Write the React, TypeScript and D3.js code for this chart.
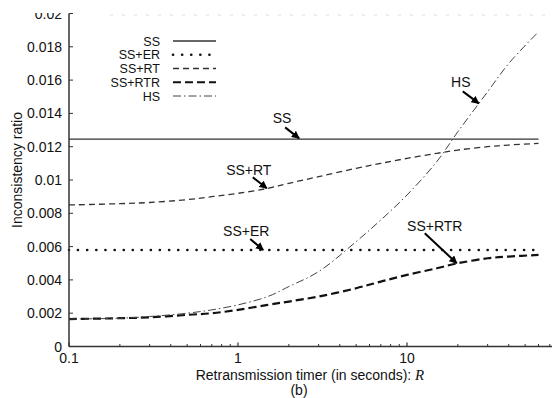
import React, { useRef, useEffect } from 'react';
import * as d3 from 'd3';

// Retransmission timer values (seconds)
const timers = [0.1, 0.2, 0.3, 0.5, 0.7, 1, 1.5, 2, 3, 5, 7, 10, 15, 20, 30, 40, 60];

const ssValues = timers.map(() => 0.01246);
const ssErValues = timers.map(() => 0.0058);
const ssRtValues = [0.0085, 0.00858, 0.00865, 0.00882, 0.009, 0.0092, 0.0095, 0.0098, 0.0102, 0.0107, 0.011, 0.0113, 0.0116, 0.0118, 0.012, 0.0121, 0.0122];
const ssRtrValues = [0.00165, 0.0017, 0.00175, 0.0019, 0.002, 0.0022, 0.0025, 0.0027, 0.003, 0.0035, 0.0039, 0.0043, 0.0047, 0.005, 0.0053, 0.0054, 0.0055];
const hsValues = [0.00165, 0.0017, 0.0018, 0.002, 0.0022, 0.0025, 0.003, 0.0036, 0.0045, 0.0063, 0.0076, 0.0091, 0.0111, 0.0129, 0.0153, 0.017, 0.0189];

const seriesNames = ['SS', 'SS+ER', 'SS+RT', 'SS+RTR', 'HS'];
const seriesValues = [ssValues, ssErValues, ssRtValues, ssRtrValues, hsValues];

const yTicks = [0, 0.002, 0.004, 0.006, 0.008, 0.01, 0.012, 0.014, 0.016, 0.018, 0.02];
const yTickLabels = ['0', '0.002', '0.004', '0.006', '0.008', '0.01', '0.012', '0.014', '0.016', '0.018', '0.02'];
const xTicks = [0.1, 1, 10];
const xTickLabels = ['0.1', '1', '10'];

// arrow annotations: label, timer and value the arrow points to
const noteLabels = ['SS', 'SS+RT', 'SS+ER', 'SS+RTR', 'HS'];
const noteTimers = [2.3, 1.48, 1.41, 19.7, 26.6];
const noteValues = [0.0125, 0.0095, 0.0058, 0.005, 0.0146];

const FONT = '"Liberation Sans", Arial, Helvetica, sans-serif';

export default function App() {
  const ref = useRef<SVGSVGElement>(null);

  useEffect(() => {
    if (!ref.current) return;
    const width = 552;
    const height = 398;
    const svg = d3.select(ref.current);
    svg.selectAll('*').remove();

    const left = 69;
    const bottom = 346.5;

    const x = d3.scaleLog().domain([0.1, 100]).range([left, left + 169 * 3]);
    const y = d3.scaleLinear().domain([0, 0.02]).range([bottom, bottom - 333]);

    const defs = svg.append('defs');
    defs.append('marker')
      .attr('id', 'arrowhead')
      .attr('viewBox', '0 0 10 10')
      .attr('refX', 9).attr('refY', 5)
      .attr('markerWidth', 4).attr('markerHeight', 4)
      .attr('markerUnits', 'strokeWidth')
      .attr('orient', 'auto')
      .append('path')
      .attr('d', 'M0,0 L10,5 L0,10 z')
      .attr('fill', '#000');

    svg.append('rect').attr('width', width).attr('height', height).attr('fill', '#fff');

    // faint remnant of top frame
    svg.append('line')
      .attr('x1', 110).attr('x2', width)
      .attr('y1', 15).attr('y2', 15)
      .attr('stroke', '#ddd').attr('stroke-width', 1)
      .attr('stroke-dasharray', '3 9');

    const styles = [
      { stroke: '#333', width: 1.3, dash: null, cap: 'butt' },
      { stroke: '#111', width: 2.6, dash: '0.1 9', cap: 'round' },
      { stroke: '#333', width: 1.3, dash: '6 4', cap: 'butt' },
      { stroke: '#111', width: 2.2, dash: '8 4', cap: 'butt' },
      { stroke: '#444', width: 1, dash: '8 3 1.5 3', cap: 'butt' },
    ];

    const line = d3.line<[number, number]>()
      .x(d => x(d[0]))
      .y(d => y(d[1]))
      .curve(d3.curveCatmullRom.alpha(0.5));

    const g = svg.append('g');
    seriesValues.forEach((vals, i) => {
      const pts = timers.map((t, j) => [t, vals[j]] as [number, number]);
      const st = styles[i];
      const p = g.append('path')
        .attr('d', line(pts))
        .attr('fill', 'none')
        .attr('stroke', st.stroke)
        .attr('stroke-width', st.width)
        .attr('stroke-linecap', st.cap);
      if (st.dash) p.attr('stroke-dasharray', st.dash);
    });

    // axes
    const axisColor = '#333';
    svg.append('line')
      .attr('x1', left).attr('x2', left)
      .attr('y1', y(0.02)).attr('y2', bottom)
      .attr('stroke', axisColor).attr('stroke-width', 1.5);
    svg.append('line')
      .attr('x1', left).attr('x2', width)
      .attr('y1', bottom).attr('y2', bottom)
      .attr('stroke', axisColor).attr('stroke-width', 1.5);

    yTicks.forEach((t, i) => {
      svg.append('line')
        .attr('x1', left).attr('x2', left + 4)
        .attr('y1', y(t)).attr('y2', y(t))
        .attr('stroke', axisColor).attr('stroke-width', 1);
      svg.append('text')
        .attr('x', 62).attr('y', y(t))
        .attr('dy', '0.36em')
        .attr('text-anchor', 'end')
        .attr('font-family', FONT).attr('font-size', 14)
        .attr('fill', '#111')
        .text(yTickLabels[i]);
    });

    // minor log ticks
    const minor: number[] = [];
    [0.1, 1, 10].forEach(dec => {
      for (let k = 2; k <= 9; k++) minor.push(dec * k);
    });
    minor.forEach(t => {
      svg.append('line')
        .attr('x1', x(t)).attr('x2', x(t))
        .attr('y1', bottom).attr('y2', bottom - 2.5)
        .attr('stroke', axisColor).attr('stroke-width', 1);
    });
    xTicks.forEach((t, i) => {
      svg.append('line')
        .attr('x1', x(t)).attr('x2', x(t))
        .attr('y1', bottom).attr('y2', bottom - 4)
        .attr('stroke', axisColor).attr('stroke-width', 1.2);
      svg.append('text')
        .attr('x', x(t)).attr('y', 363)
        .attr('text-anchor', 'middle')
        .attr('font-family', FONT).attr('font-size', 14)
        .attr('fill', '#111')
        .text(xTickLabels[i]);
    });

    // axis titles
    svg.append('text')
      .attr('transform', `translate(21.5, 170) rotate(-90)`)
      .attr('text-anchor', 'middle')
      .attr('font-family', FONT).attr('font-size', 14)
      .attr('fill', '#111')
      .text('Inconsistency ratio');

    const xt = svg.append('text')
      .attr('x', 310).attr('y', 380)
      .attr('text-anchor', 'middle')
      .attr('font-family', FONT).attr('font-size', 14)
      .attr('fill', '#111');
    xt.append('tspan').text('Retransmission timer (in seconds):  ');
    xt.append('tspan')
      .attr('font-family', '"Liberation Serif", "DejaVu Serif", serif')
      .attr('font-style', 'italic')
      .attr('font-size', 15)
      .text('R');

    svg.append('text')
      .attr('x', 299).attr('y', 395)
      .attr('text-anchor', 'middle')
      .attr('font-family', FONT).attr('font-size', 14)
      .attr('fill', '#111')
      .text('(b)');

    // legend
    seriesNames.forEach((name, i) => {
      const ly = 41 + i * 13.75;
      svg.append('text')
        .attr('x', 160).attr('y', ly)
        .attr('dy', '0.36em')
        .attr('text-anchor', 'end')
        .attr('font-family', FONT).attr('font-size', 12.5)
        .attr('fill', '#111')
        .text(name);
      const st = styles[i];
      const l = svg.append('line')
        .attr('x1', 173).attr('x2', 216)
        .attr('y1', ly).attr('y2', ly)
        .attr('stroke', st.stroke)
        .attr('stroke-width', st.width)
        .attr('stroke-linecap', st.cap);
      if (st.dash) l.attr('stroke-dasharray', st.dash);
    });

    // annotations: label offset and arrow start relative to tip (pixels)
    const offsets = [
      { lx: -17, ly: -20, ax: -14, ay: -11 },
      { lx: -18, ly: -18, ax: -14, ay: -11 },
      { lx: -17, ly: -19, ax: -13, ay: -11 },
      { lx: -22, ly: -37, ax: -32, ay: -30 },
      { lx: -18, ly: -21, ax: -16, ay: -12 },
    ];
    noteLabels.forEach((lab, i) => {
      const tx = x(noteTimers[i]);
      const ty = y(noteValues[i]);
      const o = offsets[i];
      svg.append('line')
        .attr('x1', tx + o.ax).attr('y1', ty + o.ay)
        .attr('x2', tx).attr('y2', ty)
        .attr('stroke', '#000').attr('stroke-width', 2)
        .attr('marker-end', 'url(#arrowhead)');
      svg.append('text')
        .attr('x', tx + o.lx).attr('y', ty + o.ly)
        .attr('dy', '0.36em')
        .attr('text-anchor', 'middle')
        .attr('font-family', FONT).attr('font-size', 14)
        .attr('fill', '#111')
        .text(lab);
    });

    // cropped top edge of the original figure
    svg.append('rect').attr('x', 0).attr('y', 0).attr('width', width).attr('height', 13).attr('fill', '#fff');
  }, []);

  return (
    <div style={{ position: 'absolute', left: 0, top: 0 }}>
      <svg ref={ref} width={552} height={398} style={{ display: 'block' }} />
    </div>
  );
}
